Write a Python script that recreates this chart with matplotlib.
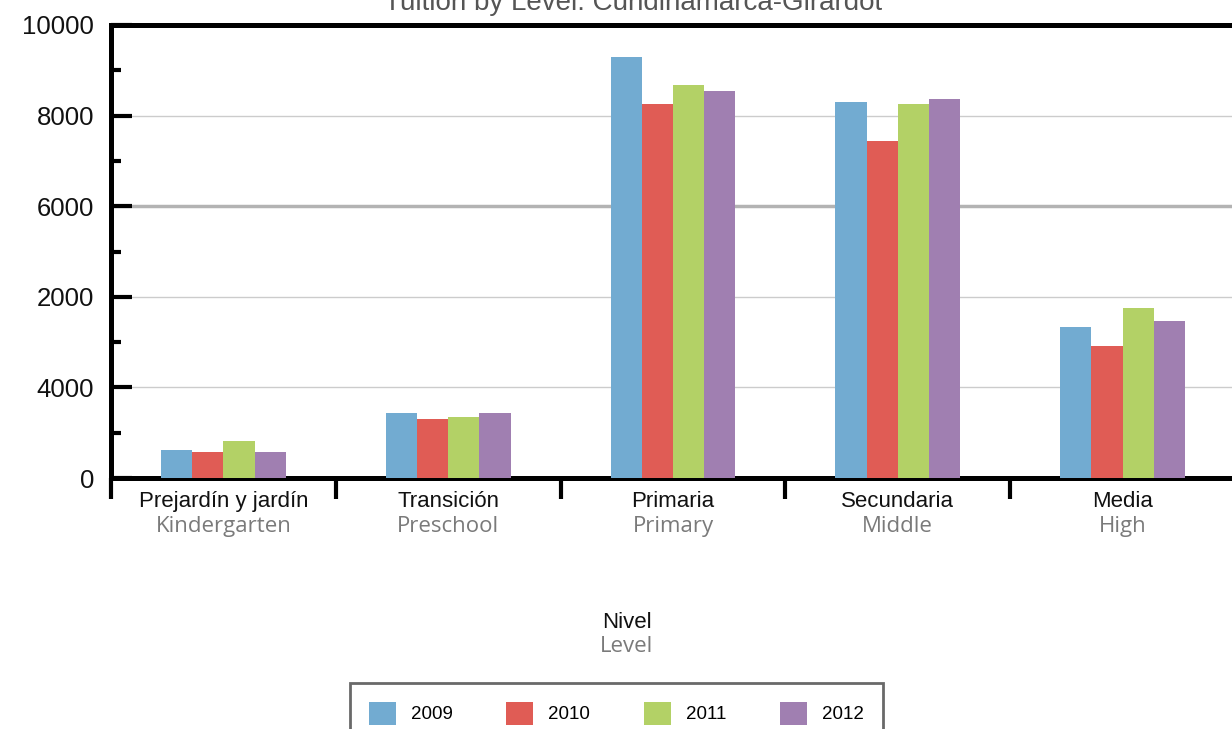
import matplotlib
matplotlib.use("Agg")
import matplotlib.pyplot as plt
from matplotlib.patches import Patch
import numpy as np

plt.rcParams['font.family'] = ['Liberation Sans', 'DejaVu Sans']

categories_es = ["Prejardín y jardín", "Transición", "Primaria", "Secundaria", "Media"]
categories_en = ["Kindergarten", "Preschool", "Primary", "Middle", "High"]
years = ["2009", "2010", "2011", "2012"]
v2009 = [620, 1440, 9290, 8300, 3330]
v2010 = [575, 1300, 8260, 7440, 2910]
v2011 = [820, 1350, 8680, 8260, 3750]
v2012 = [575, 1440, 8540, 8370, 3470]
series = [v2009, v2010, v2011, v2012]
colors = ["#72abd1", "#e05c55", "#b3d166", "#a07fb1"]
ytick_vals = [0, 2000, 4000, 6000, 8000, 10000]
ytick_labels = ["0", "4000", "2000", "6000", "8000", "10000"]
title = "Tuition by Level: Cundinamarca-Girardot"

W, H = 1232, 729
fig = plt.figure(figsize=(W / 100, H / 100), dpi=100)
ax = fig.add_axes([111 / W, 1 - 478 / H, (1235 - 111) / W, 453 / H])

x = np.arange(len(categories_es))
bw = 0.139
for i, (vals, c) in enumerate(zip(series, colors)):
    ax.bar(x + (i - 1.5) * bw, vals, width=bw, color=c, zorder=3, label=years[i])

ax.set_xlim(-0.5, 4.5)
ax.set_ylim(0, 10000)

# gridlines
for yv in ytick_vals[1:-1]:
    if yv == 6000:
        ax.axhline(yv, color="#b3b3b3", lw=2.5, zorder=1)
    else:
        ax.axhline(yv, color="#cccccc", lw=1.0, zorder=1)

for s in ["left", "bottom", "top"]:
    ax.spines[s].set_linewidth(3.6)
    ax.spines[s].set_color("black")
ax.spines["right"].set_visible(False)

ax.set_yticks(ytick_vals)
ax.set_yticklabels(ytick_labels, fontsize=18.5, color="#111111")
ax.set_yticks(np.arange(1000, 10000, 2000), minor=True)
ax.tick_params(axis="y", which="major", direction="in", length=15, width=3, pad=12)
ax.tick_params(axis="y", which="minor", direction="in", length=7, width=3)

ax.set_xticks(np.arange(-0.5, 4.6, 1.0))
ax.set_xticklabels([""] * 6)
ax.tick_params(axis="x", which="major", direction="out", length=15, width=3)

trans = ax.get_xaxis_transform()
for i in range(len(categories_es)):
    ax.text(x[i], -0.052, categories_es[i], transform=trans, ha="center", va="center",
            fontsize=16, color="#111111")
    ax.text(x[i], -0.108, categories_en[i], transform=trans, ha="center", va="center",
            fontsize=16, color="#7a7a7a", family=["Open Sans", "DejaVu Sans"])

fig.text(627 / W, 1 - 622 / H, "Nivel", ha="center", va="center", fontsize=16, color="#111111")
fig.text(627 / W, 1 - 647 / H, "Level", ha="center", va="center", fontsize=16,
         color="#7a7a7a", family=["Open Sans", "DejaVu Sans"])

fig.text(633 / W, 1 - 3 / H, title, ha="center", va="center", fontsize=20, color="#555555")

handles = [Patch(facecolor=c, edgecolor="none") for c in colors]
leg = fig.legend(handles, years, ncol=4, loc="upper left",
                 bbox_to_anchor=(350 / W, 1 - 683 / H), borderaxespad=0, fontsize=13.5,
                 handlelength=1.45, handleheight=1.5, handletextpad=0.8,
                 columnspacing=2.85, borderpad=1.0, frameon=True, fancybox=False)
fr = leg.get_frame()
fr.set_edgecolor("#444444")
fr.set_linewidth(2)

fig.savefig("out.png", dpi=100)
